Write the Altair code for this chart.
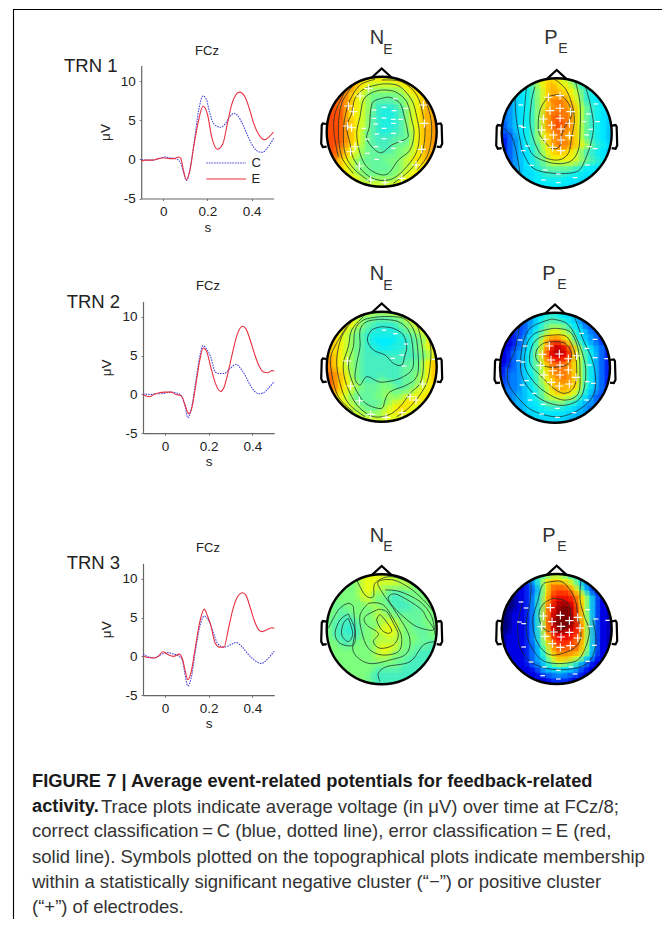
import altair as alt
import pandas as pd

W, H = 654, 911
M = 8

# ---- trace values ----
T1E = [-.1,-.08,-.05,-.02,0,.03,.05,.07,.08,.09,.105,.12,.14,.16,.18,.2,.22,.245,.27,.29,.31,.33,.345,.37,.39,.41,.43,.46,.48,.5]
V1E = [-.2,-.1,-.1,.1,.2,.1,.1,.3,.1,-1.2,-2.6,-1.5,2,5,6.8,5.8,2.8,1.3,2,4.5,7,8.3,8.6,8,6.5,4.6,3.3,2.5,2.9,3.5]
T1C = [-.1,-.08,-.05,-.02,.01,.03,.06,.08,.09,.105,.12,.14,.16,.18,.195,.21,.23,.26,.28,.3,.32,.34,.36,.38,.4,.43,.45,.47,.5]
V1C = [0,-.1,-.1,.1,.3,.2,.05,-.5,-1.5,-2.7,-1.4,2.2,6.2,8.1,7.7,6,4.5,4.1,4.5,5.4,5.9,5.5,4.5,3.2,2,1,.9,1.4,2.7]
T2E = [-.1,-.07,-.05,-.03,0,.03,.05,.07,.08,.09,.11,.125,.14,.16,.175,.19,.21,.23,.255,.27,.29,.31,.33,.355,.37,.39,.41,.43,.45,.47,.49,.5]
V2E = [0,-.3,0,.2,.3,.3,0,-.1,-.4,-1.2,-2.5,-1.5,1,4.5,6,5.6,3.5,1.5,.4,.9,3,5.5,7.7,8.8,8.5,7,5.2,3.7,2.9,2.8,3.1,3]
T2C = [-.1,-.07,-.04,-.01,.02,.05,.07,.09,.105,.12,.14,.16,.175,.19,.21,.23,.25,.27,.3,.325,.35,.37,.39,.41,.43,.45,.47,.5]
V2C = [.1,0,.1,.1,.3,.2,0,-1.2,-3,-2,1.5,5,6.3,5.9,4.8,2.9,2.7,2.7,3.4,3.9,3.2,2.3,1.2,.4,.1,.2,.7,1.7]
T3E = [-.1,-.08,-.05,-.03,-.01,.01,.04,.065,.08,.09,.105,.12,.14,.16,.18,.195,.21,.23,.25,.27,.29,.31,.33,.355,.37,.39,.41,.43,.445,.47,.49,.5]
V3E = [.1,-.15,-.2,0,.6,.3,0,.3,-.3,-1.5,-3,-2,1.3,4.5,6.1,5.2,4,1.7,1.2,1.2,3.5,6,7.6,8.2,7.9,6.3,4.5,3.4,3.2,3.5,3.7,3.6]
T3C = [-.1,-.08,-.05,-.02,.01,.04,.06,.08,.09,.105,.12,.14,.16,.18,.2,.22,.24,.27,.3,.325,.35,.38,.41,.44,.46,.48,.5]
V3C = [.3,0,-.2,.2,.5,.3,.1,-.5,-2,-3.8,-2.8,.8,3.9,5.2,4.6,3.2,1.7,1.2,1.5,1.8,1.3,.3,-.5,-.9,-.6,0,.7]

TICK_X = [0, 0.2, 0.4]
TICK_Y = [-5, 0, 5, 10]

# ---- topographic maps: one character per cell, level 0..20 of the colour ramp ----
LEVELS = "0123456789abcdefghijk"
RAMP = ["#00007f","#0000e5","#004cff","#0080ff","#00b2ff","#00dcff","#00eeff","#20f0e0","#48f0c0","#68f8a0",
        "#7fff7f","#b2ff4c","#e5ff19","#ffe500","#ffb200","#ff7f00","#ff4c00","#ff1900","#e50000","#b20000","#7f0000"]

G1N = ["ddddddd","eddcccccddd","fedcbbbbbbcdd","fedcbaaaaaabcdd","gfedcba9999aabcde","gffedcba88889abcdee",
       "ggfedcba877789bcdee","gggfddcb9877789bcdeee","gggfedcb9877789bcdeef","gggfedcb9877789bcdeef",
       "gggfedca9877889acdeef","gggfedca9888899acdeef","gggfedca9888999acdeef","ggfedcba99889aabcdeef",
       "gfedcba99999aabcdee","fedcba9999aaabcddee","edcbaa9999aabbcdd","dcbaa9999aabccd","dcbaaaaaabccd",
       "dcbbbbbbccd","ccccccc"]
G1P = ["cdddcba","8acdedcca87","679bdeeddca87","5679bdeeedcb876","45679bdfffedb8765","345679bdeffeeca8765",
       "345679beffffeca8765","3345679befgffeca87655","2345679befggfeca87654","2345679befgffeca87654",
       "2235679bdeffeeca87654","1234679bdeffeeca87654","1234678acefffedca8765","1234568acdeeddb987654",
       "2345689bddddcb98765","2345679acccccba9876","3456789aaaa987665",
       "455678888877665","5566777766655","56666666555","6666555"]
G2N = ["cbbbbbc","cbaa999aabc","dcb9988889abc","dcba98777789abc","dcba9877777789abc","ddcba98766667789abd",
       "edcba98776677789acd","eddcba98877777889abcd","eedcba988888888889abd","fedcba98888888899acde",
       "fedcba98888888999acde","ffedba9888888899aacde","gfedca9888988899abcde","gfedcba999aa9899abcdd",
       "fedcba999aaa99abccd","edcba999aabaabbccdd","dcba9999aabbcdddd","dcba999abcdddcc","cbbaaabccddcc",
       "ccbbbbccccc","ccccccc"]
G2P = ["5677654","34678876543","2346899986532","223579bcba86532","122468bdddca75432","112357adfgfdb864321",
       "112357adgiigeb86432","1123468behjjifc975321","1123468behiihfca75321","1123468adfggfeca75321",
       "1223468acefffeca75321","1233467acefffeda75321","22334579cdeffeda75321","22334579bdeeeeda75321",
       "3334568aceeedc96432","3344568accdcca75322","3445679aaba975432","445567888765433",
       "4556666655443","45555555444","4555544"]
G3N = ["ccccbbb","abccccccbbb","aabcccbbbbbba","aaabccbba999aaa","aaaabcbaa98899aaa","9aaaaabbaa988899aaa",
       "a99aaaaabaa988899aa","aa999aaaabbaa99999aaa","a99889aaabbbbaa999aaa","a988889aaabccbaa99aaa",
       "a988789aabcccbaa999aa","a988889aabbccbaaa99aa","aa9889aaabbbbbaaa9999","aaa99aaaabcccbaa99988",
       "aaaaaaaabccbaa99888","aaaaaaaabbbaa998888","aaaaaaaaaaa998888","aaaaaa999998888","aaaa988888888",
       "aaa98888888","a988888"]
G3P = ["78aba86","359cddcca74","1248cfffec842","11237cfgggec731","011248dghhhgec731","0011248dgijihec7311",
       "0011249ehjkkifc7311","00111249ehjkkifc73110","00111249eikkkjfc83110","00111249eikkkjgd83110",
       "00111249ehjkjigd83110","01111248dgiiihgd83110","01111248cfhhhgfd83110","11111237beggggfc73110",
       "1111236adffffec7311","11112358ceeedc85211","1112347accba74211","111235677653211",
       "1112334433211","11112222111","1111111"]

# ---- contour traces (crop readings, 165 units = head radius) ----
C1N = [
 [(215,235),(240,232),(270,250),(283,290),(293,335),(290,355),(245,375),(215,398),(190,385),(170,355),(178,320),(182,270),(190,245),(215,235)],
 [(215,210),(255,215),(290,245),(305,300),(312,340),(300,390),(265,420),(235,460),(205,462),(170,440),(150,400),(140,340),(150,290),(160,240),(185,218),(215,210)],
 [(215,192),(265,197),(305,240),(320,290),(328,340),(320,395),(290,440),(250,475),(205,480),(165,460),(130,415),(120,370),(110,320),(125,280),(135,235),(165,205),(215,192)],
 [(215,180),(275,185),(320,225),(340,290),(345,340),(335,400),(300,450),(250,490)],
 [(195,178),(150,195),(120,240),(105,290),(100,340),(105,400),(130,445),(180,485)],
 [(130,195),(95,250),(85,330),(95,410),(130,460)],
 [(105,215),(75,280),(72,340),(85,410)],
 [(325,200),(350,250),(365,320),(355,400),(320,450)],
]
C1P = [
 [(205,230),(240,225),(265,250),(275,285),(255,320),(245,345),(238,380),(215,385),(190,360),(175,330),(180,270),(205,230)],
 [(220,175),(255,205),(275,250),(283,300),(275,350),(265,400),(235,420),(190,410),(165,370),(150,310),(155,240),(165,200)],
 [(140,195),(135,250),(130,330),(145,380),(165,410),(220,430),(270,425),(295,390),(300,330),(300,250),(285,180)],
 [(105,230),(108,290),(120,360),(130,400),(160,445),(220,460),(290,455),(315,420),(335,360),(340,310),(330,250),(315,195)],
 [(70,325),(95,350),(110,400),(120,460)],
]
C2N = [
 [(215,200),(250,205),(280,225),(290,260),(285,285),(275,315),(250,310),(225,285),(190,270),(172,240),(185,210),(215,200)],
 [(210,178),(265,185),(300,220),(310,290),(305,330),(270,355),(230,365),(205,365),(170,350),(150,375),(135,355),(140,310),(150,260),(150,210),(170,185),(210,178)],
 [(210,170),(280,175),(315,220),(325,300),(320,350),(290,375),(240,395),(225,420),(215,445),(175,435),(150,410),(125,360),(115,310),(130,260),(135,210),(160,180),(210,170)],
 [(160,170),(125,210),(115,260),(100,310),(105,360),(125,410),(150,445),(190,470),(235,465),(270,440),(300,400),(330,370),(340,320),(335,250),(320,195),(290,170)],
 [(130,178),(95,230),(80,300),(90,370),(115,430),(165,470)],
 [(110,200),(65,280),(65,340),(85,410),(130,455)],
 [(330,190),(360,250),(360,320),(345,380),(300,440),(260,470)],
]
C2P = [
 [(220,245),(255,250),(275,280),(265,310),(240,320),(200,320),(170,300),(170,270),(190,250),(220,245)],
 [(220,225),(260,230),(285,280),(290,340),(280,385),(250,400),(215,380),(180,345),(150,310),(155,260),(180,232),(220,225)],
 [(220,205),(270,215),(295,270),(300,340),(295,400),(260,420),(220,410),(170,375),(135,320),(140,255),(165,220),(220,205)],
 [(215,177),(260,190),(290,235),(315,310),(315,370),(300,415),(260,435),(210,430),(160,400),(125,345),(125,270),(150,205),(215,177)],
 [(120,190),(105,270),(85,320),(85,370),(120,420),(165,455),(240,470),(310,440),(345,390),(340,310),(310,240),(285,175)],
]
C3N = [
 [(210,283),(225,300),(245,330),(235,340),(215,330),(200,300),(210,283)],
 [(205,268),(230,275),(250,310),(265,345),(250,375),(210,385),(190,365),(205,340),(170,315),(165,290),(205,268)],
 [(175,250),(150,285),(155,335),(175,385),(215,405),(265,395),(275,355),(260,315),(220,255),(175,250)],
 [(130,260),(135,330),(130,395),(175,430),(240,420),(290,400),(298,350),(260,280),(215,215),(205,185),(250,180),(300,205),(340,240),(375,280)],
 [(115,295),(128,340),(115,365),(95,345),(100,310),(115,295)],
 [(115,282),(135,330),(130,375),(90,370),(75,340),(90,300),(115,282)],
 [(55,325),(85,270),(115,250),(130,260)],
 [(140,180),(165,225),(190,230),(195,190),(240,170),(300,190),(365,240)],
 [(240,225),(265,225),(330,265),(350,295),(370,330),(320,320),(280,290),(245,255),(235,235),(240,225)],
 [(225,210),(270,215),(330,245),(365,290),(375,345)],
 [(210,485),(205,460),(230,440),(300,425),(340,375),(378,365)],
]
C3P = [
 [(215,236),(255,245),(268,275),(262,310),(240,330),(200,335),(178,310),(175,275),(190,250),(215,236)],
 [(190,190),(240,185),(270,215),(285,250),(290,290),(300,350),(280,385),(230,405),(195,400),(165,360),(155,300),(170,245),(180,205),(190,190)],
 [(150,185),(148,240),(135,320),(150,380),(190,425),(260,430),(300,410),(325,340),(310,290),(297,240),(300,178)],
 [(125,240),(110,330),(125,400),(175,440),(250,450),(320,430),(345,370),(335,300)],
]

# ---- cluster symbols ----
P1N = [(175,205),(150,228),(115,258),(130,275),(112,318),(125,323),(135,380),(122,395),(148,438),(182,480),(225,488),(275,475),(318,435),(335,388),(343,310),(340,255)]
N1N = [(222,262),(252,272),(192,270),(222,294),(192,295),(250,298),(272,298),(197,312),(222,325),(250,310),(162,325),(200,342),(222,356),(250,340),(272,365),(250,385),(198,380),(172,400),(200,418),(172,357),(288,265),(256,236)]
P1P = [(205,232),(240,227),(240,265),(210,272),(272,275),(190,297),(240,295),(215,316),(268,310),(185,330),(243,327),(268,347),(220,345),(195,358),(243,360),(218,382),(242,392)]
N1P = [(122,255),(122,318),(130,322),(142,378),(130,392),(155,436),(195,450),(235,462),(190,480),(235,488),(285,473),(322,435),(345,386),(328,380),(320,345),(332,328),(312,305),(352,305),(325,282),(348,252)]
P2N = [(112,303),(122,378),(148,422),(182,463),(228,472),(276,458),(300,410),(318,420),(338,372)]
N2N = [(222,210),(256,221),(288,252),(275,285),(248,295),(282,318),(372,298)]
P2P = [(208,258),(187,283),(238,282),(213,300),(265,296),(290,287),(182,316),(240,315),(218,332),(265,330),(192,345),(240,345),(288,352),(214,367),(238,378),(268,372)]
N2P = [(120,240),(135,258),(115,302),(128,306),(126,375),(140,362),(163,400),(150,420),(190,433),(232,445),(185,462),(232,472),(282,458),(320,420),(340,370),(322,365),(328,315),(345,293),(380,296),(320,265),(345,238),(305,220)]
P3P = [(208,264),(187,289),(238,287),(213,306),(265,303),(290,293),(182,321),(240,320),(218,337),(265,338),(297,325),(192,350),(240,352),(290,355),(214,372),(238,383),(268,378)]
N3P = [(120,247),(135,265),(115,307),(128,312),(128,382),(150,427),(190,442),(232,452),(185,468),(232,478),(270,442),(282,463),(320,425),(340,377),(328,320),(345,298),(380,302),(320,270)]

NOSE = [(-.18,.985),(0,1.15),(.18,.985)]
EAR_L = [(-1,.14),(-1.07,.15),(-1.09,.12),(-1.1,-.22),(-1.07,-.28),(-1,-.27)]
EAR_R = [(1,.14),(1.07,.15),(1.09,.12),(1.1,-.22),(1.07,-.28),(1,-.27)]

CAPTION_BOLD = ["FIGURE 7 | Average event-related potentials for feedback-related", "activity."]
CAPTION = ["Trace plots indicate average voltage (in \u03bcV) over time at FCz/8;",
           "correct classification\u2009=\u2009C (blue, dotted line), error classification\u2009=\u2009E (red,",
           "solid line). Symbols plotted on the topographical plots indicate membership",
           "within a statistically significant negative cluster (\u201c\u2212\u201d) or positive cluster",
           "(\u201c+\u201d) of electrodes."]

INK = "#222222"
FONT = "Liberation Sans"
layers = []

# ---- page-level helpers ----
PX = alt.Scale(domain=[M, W + M], range=[0, W])
PY = alt.Scale(domain=[M, H + M], range=[0, H])


def page_text(items, size, align="center", weight="normal", color=INK, font=FONT):
    df = pd.DataFrame(items, columns=["x", "y", "t"])
    return alt.Chart(df).mark_text(fontSize=size, align=align, baseline="middle", font=font,
                                   fontWeight=weight, color=color).encode(
        x=alt.X("x:Q", scale=PX, axis=None), y=alt.Y("y:Q", scale=PY, axis=None), text="t:N")


def page_line(pts, color, width=1.0):
    df = pd.DataFrame(pts, columns=["x", "y"]).assign(i=range(len(pts)))
    return alt.Chart(df).mark_line(color=color, strokeWidth=width).encode(
        x=alt.X("x:Q", scale=PX, axis=None), y=alt.Y("y:Q", scale=PY, axis=None), order="i:Q")


# ---- trace panels ----
def trace_panel(left, right, top, zero, tc, vc, te, ve, legend=False):
    unit = 39 / 5
    sx = alt.Scale(domain=[-0.1, 0.5], range=[left - M, right - M])
    sy = alt.Scale(domain=[-5, 12], range=[zero + 5 * unit - M, top - M])
    ax_x = alt.Axis(orient="bottom", offset=zero + 5 * unit - (H + M), values=TICK_X, title="s", grid=False,
                    labelExpr="'' + datum.value", labelFontSize=13.5, labelFont=FONT, labelColor=INK, labelPadding=4,
                    titleFontSize=13.5, titleFont=FONT, titleColor=INK, titleFontWeight="normal", titlePadding=2,
                    domainColor="#666666", domainWidth=1.2, tickColor="#777777", tickSize=2)
    ax_y = alt.Axis(orient="left", offset=-(left - M), values=TICK_Y, title="\u03bcV", grid=False,
                    labelExpr="'' + datum.value", labelFontSize=13.5, labelFont=FONT, labelColor=INK, labelPadding=4,
                    titleFontSize=13.5, titleFont=FONT, titleColor=INK, titleFontWeight="normal", titlePadding=8,
                    domainColor="#666666", domainWidth=1.2, tickColor="#777777", tickSize=2)
    dc = pd.DataFrame({"t": tc, "v": vc})
    de = pd.DataFrame({"t": te, "v": ve})
    out = [alt.Chart(dc).mark_line(color="#4a4ae0", strokeWidth=1.1, strokeDash=[1.6, 1], interpolate="monotone").encode(
               x=alt.X("t:Q", scale=sx, axis=ax_x), y=alt.Y("v:Q", scale=sy, axis=ax_y)),
           alt.Chart(de).mark_line(color="#e83040", strokeWidth=1.1, interpolate="monotone").encode(
               x=alt.X("t:Q", scale=sx, axis=None), y=alt.Y("v:Q", scale=sy, axis=None))]
    if legend:
        lx = [0.195, 0.375]
        out.append(alt.Chart(pd.DataFrame({"t": lx, "v": [-.47, -.47]})).mark_line(
            color="#4a4ae0", strokeWidth=1.1, strokeDash=[1.6, 1]).encode(
            x=alt.X("t:Q", scale=sx, axis=None), y=alt.Y("v:Q", scale=sy, axis=None)))
        out.append(alt.Chart(pd.DataFrame({"t": lx, "v": [-2.5, -2.5]})).mark_line(
            color="#e83040", strokeWidth=1.1).encode(
            x=alt.X("t:Q", scale=sx, axis=None), y=alt.Y("v:Q", scale=sy, axis=None)))
        out.append(alt.Chart(pd.DataFrame({"t": [0.4, 0.4], "v": [-.5, -2.5], "s": ["C", "E"]})).mark_text(
            fontSize=13, font=FONT, color=INK, align="left", baseline="middle").encode(
            x=alt.X("t:Q", scale=sx, axis=None), y=alt.Y("v:Q", scale=sy, axis=None), text="s:N"))
    return out


# ---- topographic panels ----
def head_panel(cx, cy, grid, contours, plus, minus, ox, oy):
    R = 55
    sx = alt.Scale(domain=[-1, 1], range=[cx - R - M, cx + R - M])
    sy = alt.Scale(domain=[-1, 1], range=[cy + R - M, cy - R - M])
    X = lambda f: alt.X(f, scale=sx, axis=None)
    Y = lambda f: alt.Y(f, scale=sy, axis=None)
    colour = alt.Color("lv:Q", legend=None, scale=alt.Scale(domain=list(range(21)), range=RAMP))

    def cell_layer(half, op, rev=False):
        cells = []
        for r, row in enumerate(grid):
            v = (10 - r) / 10
            for k, ch in enumerate(row):
                u = (k - len(row) // 2) / 10
                cells.append(dict(u0=u - half, u1=u + half, v0=v - half, v1=v + half, lv=LEVELS.index(ch)))
        if rev:
            cells = cells[::-1]
        return alt.Chart(pd.DataFrame(cells)).mark_rect(strokeWidth=0, opacity=op).encode(
            x=X("u0:Q"), x2="u1:Q", y=Y("v0:Q"), y2="v1:Q", color=colour)

    out = [cell_layer(.056, 1), cell_layer(.09, .3), cell_layer(.09, .3, rev=True)]

    to_uv = lambda p: ((p[0] - ox) / 165, (oy - p[1]) / 165)
    rows = []
    for c, tr in enumerate(contours):
        for i, p in enumerate(tr):
            u, v = to_uv(p)
            rows.append(dict(u=u, v=v, c=c, i=i))
    out.append(alt.Chart(pd.DataFrame(rows)).mark_line(color="#1a2a2a", strokeWidth=0.9, interpolate="cardinal", opacity=.85).encode(
        x=X("u:Q"), y=Y("v:Q"), detail="c:N", order="i:Q"))

    for pts, shape, size, sw in ((plus, "M-1,0H1M0,-1V1", 70, 1.1), (minus, "M-1,0H1", 22, 1.2)):
        if pts:
            df = pd.DataFrame([to_uv(p) for p in pts], columns=["u", "v"])
            out.append(alt.Chart(df).mark_point(shape=shape, size=size, stroke="white", strokeWidth=sw,
                                                filled=False, opacity=1).encode(x=X("u:Q"), y=Y("v:Q")))

    centre = pd.DataFrame({"u": [0], "v": [0]})
    out.append(alt.Chart(centre).mark_point(shape="circle", filled=False, size=121 ** 2, stroke="white", strokeWidth=11, opacity=1).encode(
        x=X("u:Q"), y=Y("v:Q")))
    out.append(alt.Chart(centre).mark_point(shape="circle", filled=False, size=(2 * R) ** 2, stroke="black", strokeWidth=2.4, opacity=1).encode(
        x=X("u:Q"), y=Y("v:Q")))
    for part in (NOSE, EAR_L, EAR_R):
        df = pd.DataFrame(part, columns=["u", "v"]).assign(i=range(len(part)))
        out.append(alt.Chart(df).mark_line(color="black", strokeWidth=2.2).encode(x=X("u:Q"), y=Y("v:Q"), order="i:Q"))
    return out


# frame
layers.append(page_line([(13.5, H + M), (13.5, 9.5), (W + M, 9.5)], "#000000", 1.1))

# traces
layers += trace_panel(141.2, 273.6, 65.5, 159.5, T1C, V1C, T1E, V1E, legend=True)
layers += trace_panel(143, 274.3, 301.5, 394.2, T2C, V2C, T2E, V2E)
layers += trace_panel(143, 274.3, 563.3, 656.2, T3C, V3C, T3E, V3E)

# maps
layers += head_panel(381.7, 131.7, G1N, C1N, P1N, N1N, 215, 335)
layers += head_panel(556.7, 133.3, G1P, C1P, P1P, N1P, 230, 340)
layers += head_panel(381.7, 366.7, G2N, C2N, P2N, N2N, 215, 320)
layers += head_panel(555.0, 367.7, G2P, C2P, P2P, N2P, 225, 323)
layers += head_panel(381.7, 629.3, G3N, C3N, [], [], 215, 328)
layers += head_panel(556.7, 629.0, G3P, C3P, P3P, N3P, 227, 328)

# labels
layers.append(page_text([(64, 66, "TRN 1"), (66.7, 301.7, "TRN 2"), (66.7, 563, "TRN 3")], 18.5, align="left"))
layers.append(page_text([(207, 50.5, "FCz"), (208, 285.7, "FCz"), (208, 548, "FCz")], 13))
layers.append(page_text([(377, 38, "N"), (551, 38, "P"), (377, 274, "N"), (549, 274, "P"), (377, 536, "N"), (549, 536, "P")], 20, color="#333333"))
layers.append(page_text([(388, 50, "E"), (563, 49, "E"), (388, 286, "E"), (562, 285, "E"), (388, 547, "E"), (562, 547, "E")], 14, color="#333333"))

# caption
layers.append(page_text([(32, 781.7, CAPTION_BOLD[0]), (32, 806.7, CAPTION_BOLD[1])], 18.3, align="left", weight="bold", color="#1a1a1a"))
layers.append(page_text([(101, 806.7, CAPTION[0]), (32, 830.7, CAPTION[1]), (32, 856.7, CAPTION[2]),
                         (32, 881.7, CAPTION[3]), (32, 907, CAPTION[4])], 18.5, align="left", color="#333333"))

chart = alt.layer(*layers).resolve_scale(x="independent", y="independent", color="independent").resolve_axis(
    x="independent", y="independent").properties(
    width=W, height=H, padding=0, autosize=alt.AutoSizeParams(type="none")
).configure_view(stroke=None)

chart.save("out.html", embed_options={"renderer": "svg", "actions": False})
